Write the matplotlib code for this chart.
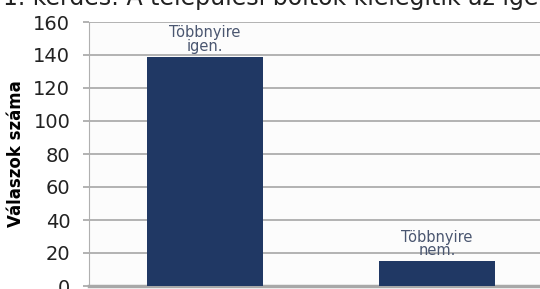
import matplotlib.pyplot as plt
import numpy as np

categories = ['Többnyire\nigen.', 'Többnyire\nnem.']
valaszok = [139, 15]
y_ticks = [0, 20, 40, 60, 80, 100, 120, 140, 160]
cim = '1. kérdés: A települési boltok kielégítik az igényeket?'

fig = plt.figure(figsize=(5.4, 2.89), dpi=100)
ax = fig.add_axes([89 / 540, 3 / 289, 464 / 540, 264 / 289])
ax.set_facecolor('#fcfcfc')

x = np.arange(len(categories))
bars = ax.bar(x, valaszok, width=0.5, color='#203864', zorder=3)

for xi, v, lab in zip(x, valaszok, categories):
    ax.annotate(lab, (xi, v), xytext=(0, 2), textcoords='offset points',
                ha='center', va='bottom', fontsize=10.5, color='#4a5670',
                linespacing=0.9, zorder=4)

ax.set_xlim(-0.5, 1.5)
ax.set_ylim(0, 160)
ax.set_yticks(y_ticks)
ax.set_xticks([])
ax.yaxis.grid(True, color='#a6a6a6', linewidth=1.2, zorder=1)
ax.tick_params(axis='y', labelsize=14, length=4.5, pad=9, color='#a6a6a6',
               width=1.2)
for lbl in ax.get_yticklabels():
    lbl.set_color('#222222')
for side in ['top', 'right']:
    ax.spines[side].set_visible(False)
ax.spines['left'].set_color('#b0b0b0')
ax.spines['bottom'].set_color('#a8a8a8')
ax.spines['bottom'].set_linewidth(2.5)
ax.set_ylabel('Válaszok száma', fontsize=12, fontweight='bold', labelpad=6)

fig.text(0.005, 1 - 5 / 289, cim, fontsize=17, ha='left', va='baseline',
         color='#222222')

fig.savefig('out.png', dpi=100)
